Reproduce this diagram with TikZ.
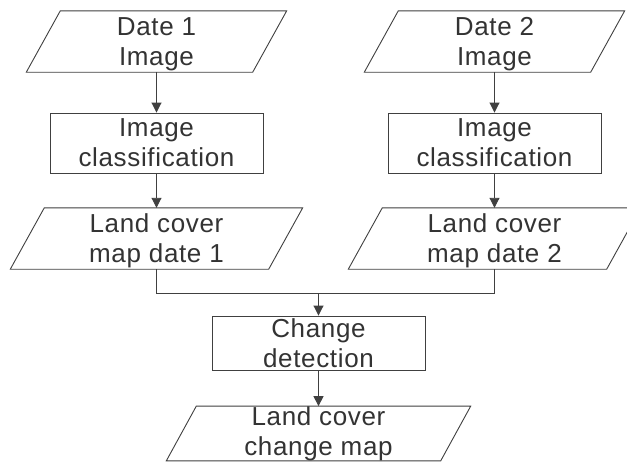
\documentclass[tikz,border=0pt]{standalone}
\usepackage{fontspec}
\setmainfont{Liberation Sans}[LetterSpace=2.5]
\usetikzlibrary{arrows.meta,calc}
\definecolor{ln}{HTML}{404040}
\definecolor{tx}{HTML}{333333}
\tikzset{
  base/.style={inner sep=0pt, align=center, text=tx, font=\fontsize{26}{30}\selectfont, text depth=0pt},
  procbox/.style={base, draw=ln, line width=0.9pt, minimum width=213pt},
  iobox/.style={base},
  conn/.style={draw=ln, line width=0.9pt},
  arr/.style={conn, -{Triangle[length=10pt,width=10pt]}},
}
\newcommand\slantbox[2]{\draw[conn] ([xshift=#2]#1.north west) -- (#1.north east) -- ([xshift=-#2]#1.south east) -- (#1.south west) -- cycle;}
\begin{document}
\begin{tikzpicture}[x=1pt,y=-1pt]
\useasboundingbox (0,0) rectangle (627,461);
\clip (0,0) rectangle (627,461);
\fill[white] (0,0) rectangle (627,461);
% inputs
\node[iobox, minimum width=260pt, minimum height=61pt] (d1) at (156.5,41.5) {Date 1\\Image};
\node[iobox, minimum width=260pt, minimum height=61pt] (d2) at (494.5,41.5) {Date 2\\Image};
\slantbox{d1}{34pt}
\slantbox{d2}{34pt}
% classification
\node[procbox, minimum height=60pt] (c1) at (156.5,143) {Image\\classification};
\node[procbox, minimum height=60pt] (c2) at (494.5,143) {Image\\classification};
% land cover maps
\node[iobox, minimum width=292pt, minimum height=61pt] (l1) at (156.5,238.5) {Land cover\\map date 1};
\node[iobox, minimum width=292pt, minimum height=61pt] (l2) at (494.5,238.5) {Land cover\\map date 2};
\slantbox{l1}{34pt}
\slantbox{l2}{34pt}
% change detection
\node[procbox, minimum height=54pt] (cd) at (318.5,343) {Change\\detection};
% result
\node[iobox, minimum width=304pt, minimum height=53pt, text depth=5.5pt] (cm) at (318.5,433.5) {Land cover\\change map};
\slantbox{cm}{30pt}
% connectors
\draw[arr] (d1.south) -- (c1.north);
\draw[arr] (d2.south) -- (c2.north);
\draw[arr] (c1.south) -- (l1.north);
\draw[arr] (c2.south) -- (l2.north);
\path (l1.south) ++(0,24) coordinate (jl);
\draw[conn] (l1.south) -- (jl) -| (l2.south);
\draw[arr] (jl -| cd.north) -- (cd.north);
\draw[arr] (cd.south) -- (cm.north);
\end{tikzpicture}
\end{document}
